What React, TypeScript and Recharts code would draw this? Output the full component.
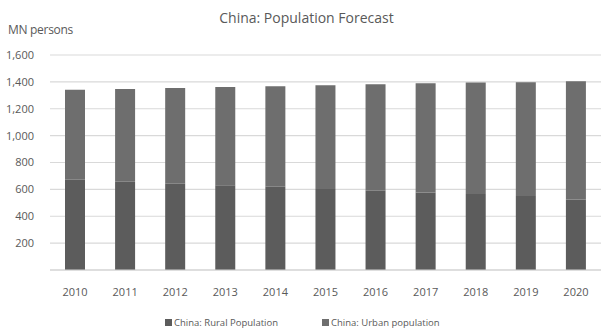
import React from 'react';
import { BarChart, Bar, XAxis, YAxis, CartesianGrid, Legend } from 'recharts';

const years = ['2010', '2011', '2012', '2013', '2014', '2015', '2016', '2017', '2018', '2019', '2020'];
const rural = [671, 657, 642, 630, 619, 603, 590, 577, 565, 550, 525];
const urban = [670, 690, 712, 731, 749, 771, 793, 813, 830, 848, 880];
const yTicks = [0, 200, 400, 600, 800, 1000, 1200, 1400, 1600];

const data = years.map((y, i) => ({ year: y, rural: rural[i], urban: urban[i] }));

const FONT = '"Open Sans", "Liberation Sans", sans-serif';
const TEXT = '#595959';

const LegendContent = () => (
  <div style={{ height: 20, position: 'relative', fontFamily: FONT, fontSize: 9.5, color: TEXT }}>
    <div style={{ position: 'absolute', left: 165, top: 16, display: 'flex', alignItems: 'center' }}>
      <span style={{ width: 7, height: 7, background: '#5c5c5c', display: 'inline-block', marginRight: 2 }} />
      <span>China: Rural Population</span>
    </div>
    <div style={{ position: 'absolute', left: 322, top: 16, display: 'flex', alignItems: 'center' }}>
      <span style={{ width: 7, height: 7, background: '#6e6e6e', display: 'inline-block', marginRight: 2 }} />
      <span>China: Urban population</span>
    </div>
  </div>
);

export default function App() {
  return (
    <div style={{ position: 'absolute', left: 0, top: 0, width: 601, height: 329, background: '#fff' }}>
      <div style={{ position: 'absolute', left: 6, width: 601, top: 8, textAlign: 'center', fontFamily: FONT, fontSize: 14, color: TEXT, zIndex: 2 }}>
        China: Population Forecast
      </div>
      <div style={{ position: 'absolute', left: 8, top: 21, fontFamily: FONT, fontSize: 12, color: TEXT, zIndex: 2, letterSpacing: -0.3 }}>
        MN persons
      </div>
      <BarChart
        width={601}
        height={329}
        data={data}
        margin={{ top: 55, right: 0, bottom: 9, left: 0 }}
        barSize={20}
      >
        <CartesianGrid vertical={false} stroke="#d9d9d9" strokeWidth={1.2} />
        <XAxis
          dataKey="year"
          height={30}
          axisLine={{ stroke: '#d0d0d0' }}
          tickLine={false}
          tick={{ fill: TEXT, fontSize: 11, fontFamily: FONT }}
          tickMargin={12}
          interval={0}
        />
        <YAxis
          width={50}
          domain={[0, 1600]}
          ticks={yTicks}
          axisLine={false}
          tickLine={false}
          tick={{ fill: TEXT, fontSize: 11, fontFamily: FONT }}
          tickMargin={10}
          tickFormatter={(v: number) => (v === 0 ? '' : v.toLocaleString('en-US'))}
        />
        <Legend verticalAlign="bottom" content={() => <LegendContent />} height={20} />
        <Bar dataKey="rural" stackId="a" fill="#5c5c5c" isAnimationActive={false} />
        <Bar dataKey="urban" stackId="a" fill="#6e6e6e" isAnimationActive={false} />
      </BarChart>
    </div>
  );
}
